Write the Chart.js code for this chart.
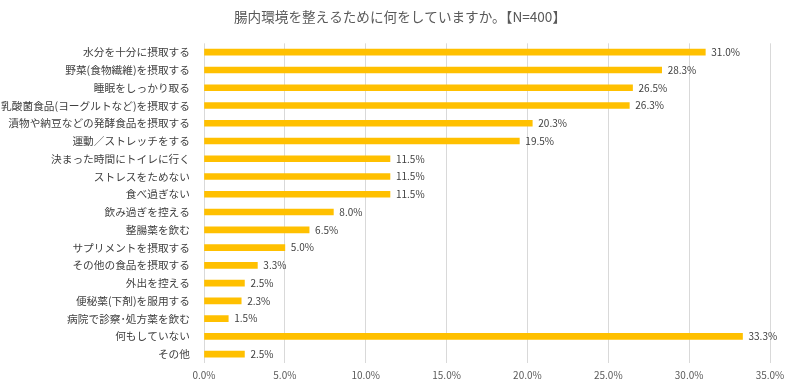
<!DOCTYPE html>
<html lang="ja">
<head>
  <meta charset="UTF-8" />
  <title>腸内環境</title>
  <script src="https://cdn.jsdelivr.net/npm/chart.js"></script>
  <style>
    html, body { margin: 0; padding: 0; background: #fff; }
    #wrap { width: 800px; height: 389px; }
  </style>
</head>
<body>
  <div id="wrap"><canvas id="chart"></canvas></div>

  <script>
    const titleText = "腸内環境を整えるために何をしていますか。【N=400】";

    const categories = [
      "水分を十分に摂取する",
      "野菜(食物繊維)を摂取する",
      "睡眠をしっかり取る",
      "乳酸菌食品(ヨーグルトなど)を摂取する",
      "漬物や納豆などの発酵食品を摂取する",
      "運動／ストレッチをする",
      "決まった時間にトイレに行く",
      "ストレスをためない",
      "食べ過ぎない",
      "飲み過ぎを控える",
      "整腸薬を飲む",
      "サプリメントを摂取する",
      "その他の食品を摂取する",
      "外出を控える",
      "便秘薬(下剤)を服用する",
      "病院で診察･処方薬を飲む",
      "何もしていない",
      "その他"
    ];

    const values = [31.0, 28.3, 26.5, 26.3, 20.3, 19.5, 11.5, 11.5, 11.5, 8.0, 6.5, 5.0, 3.3, 2.5, 2.3, 1.5, 33.3, 2.5];

    const font = "'Noto Sans CJK JP', 'Noto Sans', sans-serif";

    // draw the value next to each bar end
    const valueLabels = {
      id: "valueLabels",
      afterDatasetsDraw(chart) {
        const ctx = chart.ctx;
        const meta = chart.getDatasetMeta(0);
        ctx.save();
        ctx.font = "10px " + font;
        ctx.fillStyle = "#404040";
        ctx.textBaseline = "middle";
        ctx.textAlign = "left";
        meta.data.forEach((bar, i) => {
          ctx.fillText(values[i].toFixed(1) + "%", bar.x + 6, bar.y);
        });
        ctx.restore();
      }
    };

    new Chart(document.getElementById("chart"), {
      type: "bar",
      data: {
        labels: categories,
        datasets: [{
          data: values,
          backgroundColor: "#FFC000",
          barThickness: 6
        }]
      },
      options: {
        indexAxis: "y",
        responsive: true,
        maintainAspectRatio: false,
        animation: false,
        layout: { padding: { top: 0, right: 0, bottom: 2, left: 0 } },
        plugins: {
          legend: { display: false },
          tooltip: { enabled: false },
          title: {
            display: true,
            text: titleText,
            color: "#595959",
            font: { family: font, size: 13.6, weight: "normal" },
            padding: { top: 9, bottom: 18 }
          }
        },
        scales: {
          x: {
            min: 0,
            max: 35,
            ticks: {
              stepSize: 5,
              color: "#595959",
              font: { family: font, size: 10 },
              padding: 6,
              callback: v => v.toFixed(1) + "%"
            },
            grid: { color: "#d9d9d9", drawTicks: false },
            border: { display: false }
          },
          y: {
            afterFit(scale) { scale.width = 204; },
            ticks: {
              color: "#404040",
              font: { family: font, size: 10.7 },
              padding: 6,
              autoSkip: false
            },
            grid: { display: false },
            border: { display: false }
          },
          // empty right-hand strip so the plot stops at 35.0%
          spacer: {
            type: "category",
            position: "right",
            labels: categories,
            afterFit(scale) { scale.width = 30; },
            ticks: { display: false },
            grid: { display: false },
            border: { display: false }
          }
        }
      },
      plugins: [valueLabels]
    });
  </script>
</body>
</html>
